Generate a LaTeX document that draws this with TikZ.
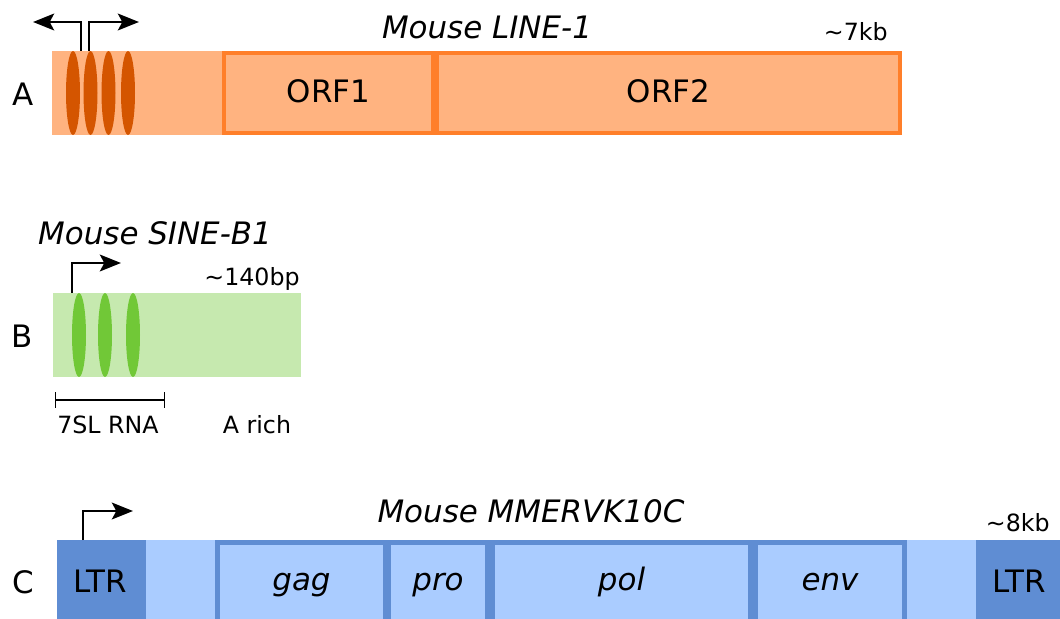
\documentclass[tikz,border=0pt]{standalone}
\usepackage{fontspec}
\setmainfont{DejaVu Sans}
\usetikzlibrary{arrows.meta,shapes.geometric,positioning}
\definecolor{lineFill}{HTML}{FFB380}
\definecolor{lineEdge}{HTML}{FF7F2A}
\definecolor{lineBox}{HTML}{D45500}
\definecolor{sineFill}{HTML}{C6E9AF}
\definecolor{sineBox}{HTML}{71C837}
\definecolor{ervFill}{HTML}{AACCFF}
\definecolor{ervEdge}{HTML}{5F8DD3}
\begin{document}
\begin{tikzpicture}[
    x=0.02cm, y=-0.02cm,
    big/.style={font=\fontsize{17.6}{20}\selectfont, inner sep=0pt},
    small/.style={font=\fontsize{13.5}{16}\selectfont, inner sep=0pt},
    bar/.style={rectangle, inner sep=0pt, minimum height=1.68cm},
    orf/.style={rectangle, draw, inner sep=0pt, line width=0.08cm, minimum height=1.6cm},
    gene/.style={rectangle, draw=ervEdge, fill=ervFill, inner sep=0pt, line width=0.1cm, minimum height=1.58cm},
    motif/.style={ellipse, inner sep=0pt, minimum width=0.28cm, minimum height=1.68cm},
    prom/.style={-{Stealth[length=12pt, width=9.5pt, inset=2.5pt]}, line width=1.5pt}
]
\useasboundingbox (0,0) rectangle (1060,618);
\clip (0,0) rectangle (1060,618);

\node[bar, fill=lineFill, minimum width=17cm] (lineA) at (477,93) {};
\node[orf, draw=lineEdge, fill=lineFill, minimum width=4.18cm] (orf1) at (328.5,93) {};
\node[orf, draw=lineEdge, fill=lineFill, minimum width=9.26cm] (orf2) at (668.5,93) {};
\node[big, anchor=base] at (328.5,103) {ORF1};
\node[big, anchor=base] at (668.5,103) {ORF2};
\node[motif, fill=lineBox] (a1) at (73,93) {};
\node[motif, fill=lineBox] (a2) at (90.5,93) {};
\node[motif, fill=lineBox] (a3) at (108.5,93) {};
\node[motif, fill=lineBox] (a4) at (128,93) {};
\coordinate (tssAl) at (81,51);
\coordinate (tssAr) at (89,51);
\coordinate (tipAl) at (33,22);
\coordinate (tipAr) at (139,22);
\draw[prom] (tssAl) |- (tipAl);
\draw[prom] (tssAr) |- (tipAr);
\node[big, anchor=base] (labA) at (23,106) {A};
\node[big, anchor=base] (nameA) at (487,39) {\itshape Mouse LINE-1};
\node[small, anchor=base east] (sizeA) at (888,41) {∼7kb};

\node[bar, fill=sineFill, minimum width=4.96cm] (sineB) at (177,335) {};
\node[motif, fill=sineBox] (b1) at (79,335) {};
\node[motif, fill=sineBox] (b2) at (105,335) {};
\node[motif, fill=sineBox] (b3) at (133,335) {};
\coordinate (tssB) at (72,293);
\coordinate (tipB) at (121,263);
\draw[prom] (tssB) |- (tipB);
\node[big, anchor=base] (labB) at (22,347) {B};
\node[big, anchor=base] (nameB) at (155,244) {\itshape Mouse SINE-B1};
\node[small, anchor=base east] (sizeB) at (300,285) {∼140bp};
\coordinate (rnaL) at (55,400);
\coordinate (rnaR) at (165,400);
\draw[{Bar[width=9pt]}-{Bar[width=9pt]}, line width=0.8pt] (rnaL) -- (rnaR);
\node[small, anchor=base] (rna) at (108,433) {7SL RNA};
\node[small, anchor=base] (arich) at (257,433) {A rich};

\node[bar, fill=ervFill, minimum width=20.2cm, anchor=north west] (ervC) at (57,540) {};
\node[bar, fill=ervEdge, minimum width=1.78cm, anchor=north west] (ltrL) at (57,540) {};
\node[bar, fill=ervEdge, minimum width=1.8cm, anchor=north west] (ltrR) at (976,540) {};
\node[gene, minimum width=3.35cm] (gag) at (301.5,582) {};
\node[gene, minimum width=1.99cm] (pro) at (438,582) {};
\node[gene, minimum width=5.16cm] (pol) at (621.5,582) {};
\node[gene, minimum width=2.98cm] (env) at (830,582) {};
\node[big, anchor=base] at (301.5,590) {\itshape gag};
\node[big, anchor=base] at (438,590) {\itshape pro};
\node[big, anchor=base] at (621.5,590) {\itshape pol};
\node[big, anchor=base] at (830,590) {\itshape env};
\node[big, anchor=base] at (100,592) {LTR};
\node[big, anchor=base] at (1019,592) {LTR};
\coordinate (tssC) at (83,540);
\coordinate (tipC) at (133,511);
\draw[prom] (tssC) |- (tipC);
\node[big, anchor=base] (labC) at (23,593) {C};
\node[big, anchor=base] (nameC) at (531,522) {\itshape Mouse MMERVK10C};
\node[small, anchor=base east] (sizeC) at (1050,531) {∼8kb};
\end{tikzpicture}
\end{document}
